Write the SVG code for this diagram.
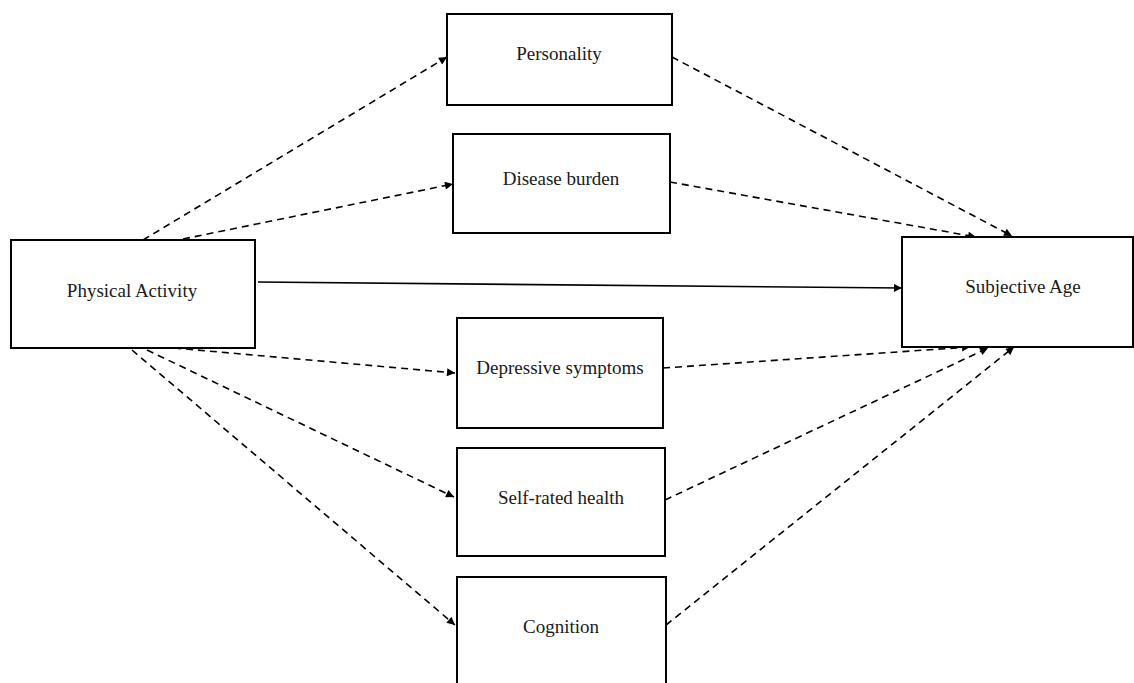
<svg xmlns="http://www.w3.org/2000/svg" width="1134" height="683" viewBox="0 0 1134 683">
<style>
.box{fill:#fff;stroke:#000;stroke-width:2}
.lbl{font-family:"Liberation Serif","Times New Roman",serif;font-size:19px;fill:#1a1a1a;text-anchor:middle;dominant-baseline:central}
.d{fill:none;stroke:#000;stroke-width:1.6;stroke-dasharray:7,5;marker-end:url(#ah)}
.s{fill:none;stroke:#000;stroke-width:1.6;marker-end:url(#ah)}
</style>
<defs>
<marker id="ah" viewBox="0 0 10 10" refX="10" refY="5" markerWidth="9" markerHeight="8" markerUnits="userSpaceOnUse" orient="auto">
<path d="M0,0 L10,5 L0,10 z" fill="#000"/>
</marker>
</defs>
<rect width="1134" height="683" fill="#fff"/>
<g id="connectors">
<line class="d" x1="143" y1="240" x2="447" y2="57"/>
<line class="d" x1="183" y1="239" x2="453" y2="184"/>
<line class="s" x1="258" y1="282" x2="902" y2="288"/>
<line class="d" x1="174" y1="348" x2="455" y2="373"/>
<line class="d" x1="147" y1="350" x2="454" y2="497"/>
<line class="d" x1="132" y1="350" x2="455" y2="625"/>
<line class="d" x1="672" y1="57" x2="1012" y2="236"/>
<line class="d" x1="670" y1="182" x2="976" y2="237"/>
<line class="d" x1="663" y1="368" x2="970" y2="347"/>
<line class="d" x1="665" y1="500" x2="988" y2="348"/>
<line class="d" x1="666" y1="625" x2="1014" y2="347"/>
</g>
<g id="physical-activity">
<rect class="box" x="11" y="240" width="244" height="108"/>
<text class="lbl" x="132" y="290">Physical Activity</text>
</g>
<g id="subjective-age">
<rect class="box" x="902" y="237" width="231" height="110"/>
<text class="lbl" x="1023" y="286">Subjective Age</text>
</g>
<g id="personality">
<rect class="box" x="447" y="14" width="225" height="91"/>
<text class="lbl" x="559" y="53">Personality</text>
</g>
<g id="disease-burden">
<rect class="box" x="453" y="134" width="217" height="99"/>
<text class="lbl" x="561" y="178">Disease burden</text>
</g>
<g id="depressive-symptoms">
<rect class="box" x="457" y="318" width="206" height="110"/>
<text class="lbl" x="560" y="367">Depressive symptoms</text>
</g>
<g id="self-rated-health">
<rect class="box" x="457" y="448" width="208" height="108"/>
<text class="lbl" x="561" y="497">Self-rated health</text>
</g>
<g id="cognition">
<rect class="box" x="457" y="577" width="209" height="120"/>
<text class="lbl" x="561" y="626">Cognition</text>
</g>
</svg>
